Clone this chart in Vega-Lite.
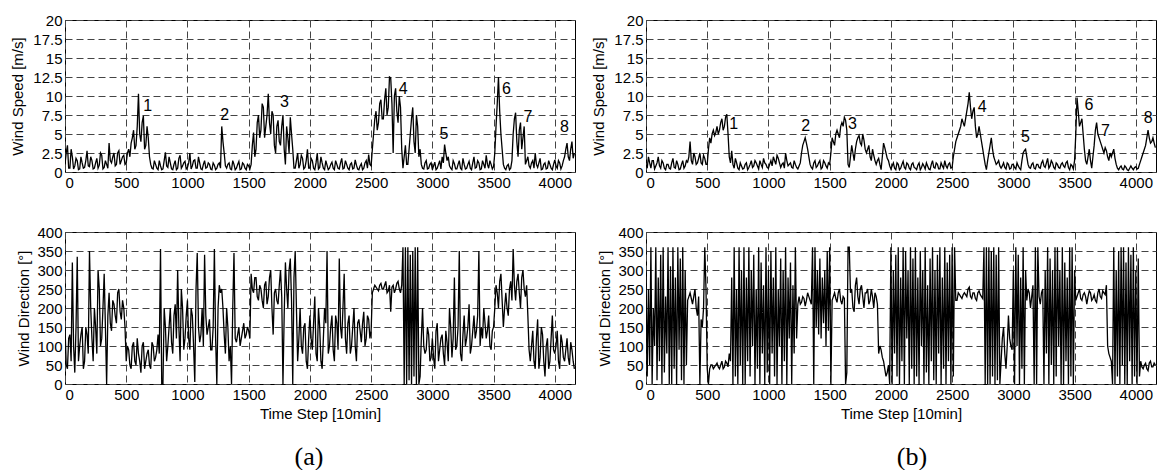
{
"$schema":"https://vega.github.io/schema/vega-lite/v6.json",
"padding":{"left":10,"top":12,"right":2,"bottom":2},
"background":"white",
"datasets":{
"ts":[
{"t":0,"sa":1.0,"da":150,"sb":1.0,"db":300},
{"t":20,"sa":3.5,"da":40,"sb":2.0,"db":250},
{"t":40,"sa":0.5,"da":130,"sb":0.5,"db":360},
{"t":60,"sa":2.0,"da":320,"sb":1.5,"db":200},
{"t":80,"sa":0.8,"da":30,"sb":0.8,"db":360},
{"t":100,"sa":1.5,"da":335,"sb":2.0,"db":280},
{"t":120,"sa":0.4,"da":100,"sb":0.5,"db":340},
{"t":140,"sa":1.2,"da":150,"sb":1.2,"db":360},
{"t":160,"sa":0.6,"da":60,"sb":0.3,"db":230},
{"t":180,"sa":2.8,"da":130,"sb":1.0,"db":360},
{"t":200,"sa":0.7,"da":350,"sb":0.4,"db":310},
{"t":220,"sa":1.5,"da":120,"sb":1.8,"db":360},
{"t":240,"sa":0.5,"da":200,"sb":0.5,"db":280},
{"t":260,"sa":1.8,"da":80,"sb":1.0,"db":360},
{"t":280,"sa":0.9,"da":250,"sb":0.4,"db":330},
{"t":300,"sa":2.2,"da":120,"sb":1.5,"db":360},
{"t":320,"sa":0.6,"da":290,"sb":0.8,"db":300},
{"t":340,"sa":1.0,"da":0,"sb":1.3,"db":220},
{"t":360,"sa":3.8,"da":240,"sb":4.0,"db":240},
{"t":380,"sa":1.2,"da":140,"sb":1.0,"db":210},
{"t":400,"sa":2.5,"da":210,"sb":2.0,"db":250},
{"t":420,"sa":1.0,"da":160,"sb":1.2,"db":180},
{"t":440,"sa":2.8,"da":250,"sb":2.5,"db":0},
{"t":460,"sa":1.5,"da":170,"sb":1.0,"db":150},
{"t":480,"sa":2.2,"da":200,"sb":1.8,"db":360},
{"t":500,"sa":1.2,"da":60,"sb":1.0,"db":40},
{"t":520,"sa":3.0,"da":90,"sb":4.5,"db":40},
{"t":540,"sa":3.8,"da":40,"sb":5.0,"db":50},
{"t":560,"sa":5.5,"da":110,"sb":4.8,"db":45},
{"t":580,"sa":3.5,"da":50,"sb":6.0,"db":55},
{"t":600,"sa":10.3,"da":80,"sb":5.5,"db":40},
{"t":620,"sa":4.0,"da":30,"sb":7.0,"db":60},
{"t":640,"sa":7.4,"da":110,"sb":6.0,"db":45},
{"t":660,"sa":3.5,"da":60,"sb":7.6,"db":55},
{"t":680,"sa":4.5,"da":90,"sb":2.0,"db":80},
{"t":700,"sa":1.0,"da":40,"sb":2.8,"db":280},
{"t":720,"sa":0.4,"da":100,"sb":0.5,"db":360},
{"t":740,"sa":1.0,"da":70,"sb":1.2,"db":250},
{"t":760,"sa":0.3,"da":130,"sb":0.3,"db":360},
{"t":780,"sa":0.8,"da":355,"sb":0.8,"db":300},
{"t":800,"sa":0.4,"da":0,"sb":0.5,"db":360},
{"t":820,"sa":2.6,"da":150,"sb":1.2,"db":280},
{"t":840,"sa":0.6,"da":100,"sb":0.6,"db":360},
{"t":860,"sa":1.2,"da":200,"sb":1.5,"db":300},
{"t":880,"sa":0.3,"da":80,"sb":0.8,"db":340},
{"t":900,"sa":1.5,"da":210,"sb":1.2,"db":250},
{"t":920,"sa":0.5,"da":300,"sb":0.4,"db":360},
{"t":940,"sa":2.2,"da":60,"sb":1.0,"db":320},
{"t":960,"sa":0.8,"da":200,"sb":1.8,"db":260},
{"t":980,"sa":1.4,"da":120,"sb":1.0,"db":360},
{"t":1000,"sa":0.6,"da":220,"sb":0.5,"db":300},
{"t":1020,"sa":2.5,"da":90,"sb":1.5,"db":350},
{"t":1040,"sa":0.8,"da":180,"sb":2.0,"db":280},
{"t":1060,"sa":1.6,"da":5,"sb":1.0,"db":360},
{"t":1080,"sa":0.5,"da":345,"sb":1.8,"db":250},
{"t":1100,"sa":1.2,"da":110,"sb":0.6,"db":330},
{"t":1120,"sa":0.3,"da":200,"sb":1.2,"db":300},
{"t":1140,"sa":1.5,"da":340,"sb":2.5,"db":360},
{"t":1160,"sa":0.6,"da":130,"sb":0.8,"db":280},
{"t":1180,"sa":1.0,"da":170,"sb":1.2,"db":320},
{"t":1200,"sa":0.3,"da":90,"sb":0.5,"db":260},
{"t":1220,"sa":0.9,"da":355,"sb":1.0,"db":360},
{"t":1240,"sa":0.5,"da":0,"sb":0.4,"db":210},
{"t":1260,"sa":1.2,"da":260,"sb":1.2,"db":210},
{"t":1280,"sa":6.0,"da":250,"sb":3.5,"db":230},
{"t":1300,"sa":2.5,"da":130,"sb":4.5,"db":205},
{"t":1320,"sa":0.5,"da":200,"sb":3.0,"db":240},
{"t":1340,"sa":1.2,"da":60,"sb":1.0,"db":220},
{"t":1360,"sa":0.3,"da":0,"sb":0.4,"db":360},
{"t":1380,"sa":1.0,"da":345,"sb":1.5,"db":360},
{"t":1400,"sa":0.5,"da":110,"sb":0.8,"db":300},
{"t":1420,"sa":1.4,"da":150,"sb":1.5,"db":330},
{"t":1440,"sa":0.4,"da":120,"sb":0.6,"db":280},
{"t":1460,"sa":1.0,"da":160,"sb":1.2,"db":300},
{"t":1480,"sa":0.3,"da":130,"sb":0.5,"db":350},
{"t":1500,"sa":0.8,"da":140,"sb":1.0,"db":360},
{"t":1520,"sa":1.0,"da":290,"sb":4.5,"db":220},
{"t":1540,"sa":5.2,"da":240,"sb":3.5,"db":240},
{"t":1560,"sa":3.0,"da":280,"sb":5.5,"db":215},
{"t":1580,"sa":7.5,"da":220,"sb":4.5,"db":250},
{"t":1600,"sa":5.5,"da":250,"sb":6.5,"db":210},
{"t":1620,"sa":8.5,"da":200,"sb":7.2,"db":225},
{"t":1640,"sa":6.0,"da":270,"sb":5.5,"db":30},
{"t":1660,"sa":10.3,"da":230,"sb":0.6,"db":360},
{"t":1680,"sa":5.0,"da":300,"sb":3.5,"db":250},
{"t":1700,"sa":7.5,"da":130,"sb":1.5,"db":190},
{"t":1720,"sa":2.5,"da":250,"sb":4.0,"db":280},
{"t":1740,"sa":6.8,"da":210,"sb":4.8,"db":210},
{"t":1760,"sa":3.5,"da":300,"sb":3.5,"db":260},
{"t":1780,"sa":7.5,"da":0,"sb":4.2,"db":200},
{"t":1800,"sa":1.0,"da":320,"sb":2.5,"db":240},
{"t":1820,"sa":4.5,"da":200,"sb":3.5,"db":210},
{"t":1840,"sa":7.2,"da":330,"sb":1.5,"db":250},
{"t":1860,"sa":3.0,"da":0,"sb":2.2,"db":200},
{"t":1880,"sa":0.5,"da":350,"sb":1.0,"db":230},
{"t":1900,"sa":2.5,"da":60,"sb":1.8,"db":80},
{"t":1920,"sa":1.0,"da":200,"sb":0.3,"db":90},
{"t":1940,"sa":1.8,"da":80,"sb":3.8,"db":60},
{"t":1960,"sa":0.6,"da":160,"sb":2.5,"db":20},
{"t":1980,"sa":3.0,"da":40,"sb":1.5,"db":50},
{"t":2000,"sa":0.5,"da":180,"sb":0.4,"db":360},
{"t":2020,"sa":1.5,"da":90,"sb":1.2,"db":300},
{"t":2040,"sa":0.3,"da":230,"sb":0.3,"db":340},
{"t":2060,"sa":2.5,"da":60,"sb":1.0,"db":360},
{"t":2080,"sa":0.6,"da":150,"sb":0.5,"db":280},
{"t":2100,"sa":1.2,"da":40,"sb":1.4,"db":360},
{"t":2120,"sa":0.3,"da":200,"sb":0.4,"db":350},
{"t":2140,"sa":0.9,"da":350,"sb":1.0,"db":300},
{"t":2160,"sa":0.5,"da":100,"sb":0.3,"db":360},
{"t":2180,"sa":1.3,"da":180,"sb":1.2,"db":330},
{"t":2200,"sa":0.3,"da":60,"sb":0.5,"db":360},
{"t":2220,"sa":1.0,"da":160,"sb":0.9,"db":280},
{"t":2240,"sa":0.4,"da":330,"sb":0.3,"db":350},
{"t":2260,"sa":1.8,"da":120,"sb":1.1,"db":300},
{"t":2280,"sa":0.5,"da":290,"sb":0.4,"db":360},
{"t":2300,"sa":1.0,"da":80,"sb":0.8,"db":260},
{"t":2320,"sa":0.3,"da":180,"sb":0.3,"db":330},
{"t":2340,"sa":1.2,"da":100,"sb":1.5,"db":360},
{"t":2360,"sa":0.5,"da":200,"sb":0.5,"db":300},
{"t":2380,"sa":0.9,"da":60,"sb":1.0,"db":340},
{"t":2400,"sa":0.3,"da":170,"sb":0.4,"db":360},
{"t":2420,"sa":1.1,"da":110,"sb":0.8,"db":280},
{"t":2440,"sa":0.5,"da":190,"sb":1.5,"db":360},
{"t":2460,"sa":1.5,"da":120,"sb":0.5,"db":320},
{"t":2480,"sa":2.3,"da":170,"sb":1.2,"db":340},
{"t":2500,"sa":0.8,"da":140,"sb":0.6,"db":360},
{"t":2520,"sa":5.0,"da":250,"sb":3.0,"db":360},
{"t":2540,"sa":8.0,"da":255,"sb":4.5,"db":220},
{"t":2560,"sa":6.5,"da":245,"sb":5.5,"db":235},
{"t":2580,"sa":9.5,"da":265,"sb":7.0,"db":225},
{"t":2600,"sa":7.0,"da":250,"sb":6.0,"db":240},
{"t":2620,"sa":11.0,"da":270,"sb":8.0,"db":230},
{"t":2640,"sa":8.5,"da":245,"sb":10.5,"db":255},
{"t":2660,"sa":12.4,"da":190,"sb":7.0,"db":225},
{"t":2680,"sa":2.5,"da":260,"sb":8.5,"db":240},
{"t":2700,"sa":11.0,"da":250,"sb":4.5,"db":220},
{"t":2720,"sa":6.5,"da":270,"sb":6.0,"db":245},
{"t":2740,"sa":8.5,"da":240,"sb":4.0,"db":230},
{"t":2760,"sa":0.5,"da":360,"sb":2.0,"db":360},
{"t":2780,"sa":3.5,"da":360,"sb":0.3,"db":360},
{"t":2800,"sa":1.0,"da":360,"sb":2.5,"db":360},
{"t":2820,"sa":5.0,"da":340,"sb":4.5,"db":350},
{"t":2840,"sa":8.5,"da":350,"sb":2.0,"db":360},
{"t":2860,"sa":2.5,"da":360,"sb":1.0,"db":340},
{"t":2880,"sa":6.0,"da":360,"sb":1.5,"db":360},
{"t":2900,"sa":3.0,"da":20,"sb":0.5,"db":60},
{"t":2920,"sa":0.5,"da":200,"sb":1.2,"db":150},
{"t":2940,"sa":1.2,"da":80,"sb":0.4,"db":40},
{"t":2960,"sa":0.4,"da":150,"sb":1.0,"db":180},
{"t":2980,"sa":1.0,"da":60,"sb":0.5,"db":100},
{"t":3000,"sa":0.3,"da":120,"sb":1.0,"db":300},
{"t":3020,"sa":1.3,"da":40,"sb":0.4,"db":360},
{"t":3040,"sa":0.5,"da":160,"sb":0.8,"db":340},
{"t":3060,"sa":1.5,"da":90,"sb":0.3,"db":280},
{"t":3080,"sa":2.0,"da":130,"sb":2.5,"db":360},
{"t":3100,"sa":3.6,"da":50,"sb":3.0,"db":300},
{"t":3120,"sa":1.5,"da":110,"sb":1.0,"db":250},
{"t":3140,"sa":0.8,"da":200,"sb":0.5,"db":200},
{"t":3160,"sa":0.3,"da":70,"sb":1.2,"db":260},
{"t":3180,"sa":1.1,"da":280,"sb":0.4,"db":360},
{"t":3200,"sa":0.4,"da":100,"sb":1.0,"db":360},
{"t":3220,"sa":1.5,"da":350,"sb":0.5,"db":210},
{"t":3240,"sa":0.3,"da":60,"sb":1.5,"db":250},
{"t":3260,"sa":1.0,"da":180,"sb":0.6,"db":300},
{"t":3280,"sa":0.5,"da":120,"sb":1.8,"db":360},
{"t":3300,"sa":1.4,"da":210,"sb":0.8,"db":330},
{"t":3320,"sa":0.3,"da":100,"sb":1.2,"db":300},
{"t":3340,"sa":2.0,"da":180,"sb":0.4,"db":360},
{"t":3360,"sa":0.6,"da":140,"sb":1.0,"db":360},
{"t":3380,"sa":1.2,"da":350,"sb":0.5,"db":300},
{"t":3400,"sa":0.4,"da":150,"sb":1.2,"db":360},
{"t":3420,"sa":1.0,"da":200,"sb":0.6,"db":320},
{"t":3440,"sa":2.2,"da":120,"sb":1.4,"db":280},
{"t":3460,"sa":0.5,"da":180,"sb":0.3,"db":360},
{"t":3480,"sa":1.0,"da":90,"sb":0.8,"db":360},
{"t":3500,"sa":0.7,"da":150,"sb":1.5,"db":300},
{"t":3520,"sa":6.0,"da":260,"sb":9.8,"db":230},
{"t":3540,"sa":12.5,"da":200,"sb":6.0,"db":250},
{"t":3560,"sa":5.0,"da":290,"sb":7.0,"db":220},
{"t":3580,"sa":1.0,"da":150,"sb":3.0,"db":240},
{"t":3600,"sa":0.3,"da":240,"sb":1.0,"db":210},
{"t":3620,"sa":1.0,"da":180,"sb":3.0,"db":245},
{"t":3640,"sa":0.5,"da":270,"sb":0.5,"db":220},
{"t":3660,"sa":5.0,"da":355,"sb":3.5,"db":235},
{"t":3680,"sa":7.8,"da":220,"sb":6.5,"db":215},
{"t":3700,"sa":2.0,"da":290,"sb":4.5,"db":250},
{"t":3720,"sa":6.5,"da":200,"sb":3.5,"db":225},
{"t":3740,"sa":4.5,"da":300,"sb":2.5,"db":240},
{"t":3760,"sa":1.0,"da":230,"sb":2.8,"db":260},
{"t":3780,"sa":2.0,"da":180,"sb":1.5,"db":80},
{"t":3800,"sa":0.5,"da":60,"sb":2.0,"db":60},
{"t":3820,"sa":1.5,"da":140,"sb":3.0,"db":360},
{"t":3840,"sa":2.5,"da":40,"sb":1.0,"db":300},
{"t":3860,"sa":0.6,"da":170,"sb":0.3,"db":350},
{"t":3880,"sa":1.8,"da":70,"sb":0.8,"db":360},
{"t":3900,"sa":0.4,"da":130,"sb":0.3,"db":360},
{"t":3920,"sa":1.2,"da":20,"sb":0.6,"db":320},
{"t":3940,"sa":0.5,"da":120,"sb":0.2,"db":360},
{"t":3960,"sa":1.0,"da":60,"sb":0.8,"db":340},
{"t":3980,"sa":0.3,"da":180,"sb":0.3,"db":360},
{"t":4000,"sa":1.6,"da":80,"sb":0.7,"db":300},
{"t":4020,"sa":0.5,"da":140,"sb":0.5,"db":330},
{"t":4040,"sa":1.2,"da":40,"sb":1.5,"db":60},
{"t":4060,"sa":0.8,"da":110,"sb":2.5,"db":40},
{"t":4080,"sa":2.0,"da":60,"sb":3.5,"db":55},
{"t":4100,"sa":3.8,"da":120,"sb":5.5,"db":35},
{"t":4120,"sa":1.5,"da":50,"sb":3.8,"db":60},
{"t":4140,"sa":4.0,"da":90,"sb":4.5,"db":45},
{"t":4160,"sa":2.5,"da":40,"sb":3.2,"db":50},
{"t":10,"sa":2.5,"da":50,"sb":0.5,"db":20},
{"t":30,"sa":0.5,"da":120,"sb":1.2,"db":50},
{"t":50,"sa":3.0,"da":60,"sb":1.5,"db":0},
{"t":70,"sa":0.4,"da":100,"sb":0.4,"db":100},
{"t":90,"sa":1.8,"da":150,"sb":1.2,"db":10},
{"t":110,"sa":0.3,"da":60,"sb":0.8,"db":60},
{"t":130,"sa":2.0,"da":130,"sb":1.5,"db":0},
{"t":150,"sa":0.5,"da":40,"sb":0.5,"db":30},
{"t":170,"sa":1.5,"da":150,"sb":1.0,"db":80},
{"t":190,"sa":0.8,"da":80,"sb":0.5,"db":0},
{"t":210,"sa":2.0,"da":200,"sb":1.2,"db":0},
{"t":230,"sa":0.4,"da":60,"sb":0.6,"db":40},
{"t":250,"sa":1.2,"da":150,"sb":1.5,"db":0},
{"t":270,"sa":0.5,"da":300,"sb":0.3,"db":90},
{"t":290,"sa":2.5,"da":100,"sb":1.0,"db":10},
{"t":310,"sa":0.4,"da":200,"sb":0.5,"db":0},
{"t":330,"sa":1.5,"da":150,"sb":1.5,"db":50},
{"t":350,"sa":0.5,"da":180,"sb":2.0,"db":230},
{"t":370,"sa":1.5,"da":160,"sb":1.5,"db":225},
{"t":390,"sa":2.0,"da":220,"sb":2.5,"db":230},
{"t":410,"sa":0.8,"da":180,"sb":1.0,"db":200},
{"t":430,"sa":2.5,"da":240,"sb":1.8,"db":230},
{"t":450,"sa":1.0,"da":190,"sb":1.2,"db":170},
{"t":470,"sa":2.0,"da":220,"sb":2.2,"db":200},
{"t":490,"sa":1.0,"da":150,"sb":1.0,"db":250},
{"t":510,"sa":2.5,"da":100,"sb":3.0,"db":0},
{"t":530,"sa":2.0,"da":50,"sb":3.8,"db":50},
{"t":550,"sa":4.5,"da":100,"sb":5.5,"db":40},
{"t":570,"sa":3.0,"da":60,"sb":5.2,"db":50},
{"t":590,"sa":6.0,"da":120,"sb":5.0,"db":45},
{"t":610,"sa":5.0,"da":60,"sb":6.5,"db":50},
{"t":630,"sa":6.5,"da":100,"sb":5.5,"db":40},
{"t":650,"sa":3.0,"da":40,"sb":7.2,"db":60},
{"t":670,"sa":6.0,"da":80,"sb":5.0,"db":45},
{"t":690,"sa":2.0,"da":50,"sb":1.2,"db":60},
{"t":710,"sa":0.5,"da":110,"sb":1.0,"db":0},
{"t":730,"sa":1.5,"da":60,"sb":1.8,"db":20},
{"t":750,"sa":0.5,"da":90,"sb":0.5,"db":0},
{"t":770,"sa":1.5,"da":80,"sb":1.2,"db":50},
{"t":790,"sa":0.3,"da":0,"sb":0.4,"db":0},
{"t":810,"sa":1.5,"da":200,"sb":1.0,"db":0},
{"t":830,"sa":0.8,"da":60,"sb":0.3,"db":60},
{"t":850,"sa":2.0,"da":150,"sb":1.0,"db":20},
{"t":870,"sa":0.4,"da":110,"sb":0.6,"db":100},
{"t":890,"sa":1.0,"da":180,"sb":1.5,"db":0},
{"t":910,"sa":0.3,"da":120,"sb":0.8,"db":40},
{"t":930,"sa":1.8,"da":150,"sb":1.5,"db":0},
{"t":950,"sa":0.5,"da":250,"sb":0.6,"db":80},
{"t":970,"sa":1.2,"da":90,"sb":1.2,"db":0},
{"t":990,"sa":0.4,"da":180,"sb":0.6,"db":30},
{"t":1010,"sa":1.2,"da":120,"sb":1.0,"db":0},
{"t":1030,"sa":0.4,"da":200,"sb":0.8,"db":80},
{"t":1050,"sa":1.5,"da":100,"sb":1.5,"db":20},
{"t":1070,"sa":0.5,"da":250,"sb":2.2,"db":0},
{"t":1090,"sa":2.0,"da":150,"sb":1.2,"db":100},
{"t":1110,"sa":0.4,"da":130,"sb":1.0,"db":0},
{"t":1130,"sa":1.0,"da":100,"sb":0.5,"db":60},
{"t":1150,"sa":0.5,"da":180,"sb":1.5,"db":0},
{"t":1170,"sa":1.2,"da":150,"sb":1.0,"db":120},
{"t":1190,"sa":0.4,"da":90,"sb":0.6,"db":0},
{"t":1210,"sa":1.2,"da":150,"sb":1.5,"db":80},
{"t":1230,"sa":0.3,"da":120,"sb":0.6,"db":120},
{"t":1250,"sa":1.0,"da":200,"sb":0.8,"db":230},
{"t":1270,"sa":0.5,"da":240,"sb":2.5,"db":215},
{"t":1290,"sa":4.0,"da":200,"sb":4.0,"db":225},
{"t":1310,"sa":0.8,"da":80,"sb":3.8,"db":220},
{"t":1330,"sa":1.0,"da":150,"sb":2.0,"db":230},
{"t":1350,"sa":0.4,"da":100,"sb":0.6,"db":210},
{"t":1370,"sa":1.5,"da":200,"sb":1.2,"db":0},
{"t":1390,"sa":0.3,"da":120,"sb":0.6,"db":150},
{"t":1410,"sa":1.0,"da":130,"sb":1.2,"db":130},
{"t":1430,"sa":0.3,"da":100,"sb":0.4,"db":120},
{"t":1450,"sa":1.2,"da":140,"sb":1.5,"db":160},
{"t":1470,"sa":0.5,"da":120,"sb":0.8,"db":100},
{"t":1490,"sa":1.0,"da":150,"sb":1.2,"db":140},
{"t":1510,"sa":0.4,"da":120,"sb":2.5,"db":0},
{"t":1530,"sa":3.5,"da":250,"sb":4.0,"db":230},
{"t":1550,"sa":2.0,"da":280,"sb":5.0,"db":225},
{"t":1570,"sa":6.5,"da":230,"sb":5.0,"db":240},
{"t":1590,"sa":4.5,"da":260,"sb":6.0,"db":220},
{"t":1610,"sa":9.0,"da":220,"sb":6.0,"db":230},
{"t":1630,"sa":4.5,"da":260,"sb":6.8,"db":0},
{"t":1650,"sa":7.5,"da":210,"sb":1.0,"db":360},
{"t":1670,"sa":6.5,"da":280,"sb":2.0,"db":240},
{"t":1690,"sa":8.0,"da":200,"sb":2.5,"db":200},
{"t":1710,"sa":3.5,"da":240,"sb":3.0,"db":260},
{"t":1730,"sa":6.0,"da":220,"sb":4.5,"db":230},
{"t":1750,"sa":4.0,"da":260,"sb":3.8,"db":250},
{"t":1770,"sa":6.0,"da":230,"sb":5.0,"db":230},
{"t":1790,"sa":3.0,"da":180,"sb":3.0,"db":240},
{"t":1810,"sa":6.0,"da":250,"sb":3.0,"db":250},
{"t":1830,"sa":2.5,"da":300,"sb":2.0,"db":220},
{"t":1850,"sa":5.0,"da":220,"sb":3.0,"db":230},
{"t":1870,"sa":0.5,"da":280,"sb":1.5,"db":240},
{"t":1890,"sa":1.5,"da":200,"sb":1.5,"db":210},
{"t":1910,"sa":0.5,"da":120,"sb":1.0,"db":100},
{"t":1930,"sa":2.2,"da":100,"sb":2.0,"db":70},
{"t":1950,"sa":0.4,"da":150,"sb":3.2,"db":40},
{"t":1970,"sa":1.5,"da":60,"sb":1.8,"db":30},
{"t":1990,"sa":0.5,"da":120,"sb":0.8,"db":0},
{"t":2010,"sa":1.8,"da":120,"sb":0.8,"db":0},
{"t":2030,"sa":0.5,"da":160,"sb":0.5,"db":80},
{"t":2050,"sa":1.2,"da":80,"sb":1.2,"db":20},
{"t":2070,"sa":0.4,"da":200,"sb":0.3,"db":0},
{"t":2090,"sa":2.0,"da":60,"sb":1.0,"db":60},
{"t":2110,"sa":0.5,"da":120,"sb":0.6,"db":0},
{"t":2130,"sa":1.5,"da":160,"sb":1.2,"db":120},
{"t":2150,"sa":0.3,"da":80,"sb":0.5,"db":0},
{"t":2170,"sa":1.0,"da":150,"sb":1.0,"db":40},
{"t":2190,"sa":0.5,"da":90,"sb":0.6,"db":0},
{"t":2210,"sa":1.5,"da":180,"sb":0.3,"db":20},
{"t":2230,"sa":0.5,"da":90,"sb":1.2,"db":0},
{"t":2250,"sa":1.2,"da":150,"sb":0.6,"db":100},
{"t":2270,"sa":0.4,"da":200,"sb":0.8,"db":0},
{"t":2290,"sa":1.5,"da":120,"sb":1.2,"db":30},
{"t":2310,"sa":0.5,"da":160,"sb":0.4,"db":0},
{"t":2330,"sa":1.0,"da":80,"sb":1.0,"db":60},
{"t":2350,"sa":0.4,"da":150,"sb":0.6,"db":10},
{"t":2370,"sa":1.6,"da":100,"sb":1.2,"db":0},
{"t":2390,"sa":0.4,"da":160,"sb":0.4,"db":80},
{"t":2410,"sa":0.8,"da":140,"sb":1.2,"db":0},
{"t":2430,"sa":0.3,"da":160,"sb":0.5,"db":40},
{"t":2450,"sa":1.2,"da":100,"sb":0.8,"db":0},
{"t":2470,"sa":0.5,"da":180,"sb":1.0,"db":60},
{"t":2490,"sa":1.0,"da":120,"sb":0.5,"db":0},
{"t":2510,"sa":3.0,"da":240,"sb":2.0,"db":20},
{"t":2530,"sa":7.0,"da":260,"sb":4.0,"db":220},
{"t":2550,"sa":5.5,"da":250,"sb":5.0,"db":240},
{"t":2570,"sa":9.0,"da":260,"sb":6.0,"db":230},
{"t":2590,"sa":7.0,"da":250,"sb":6.5,"db":235},
{"t":2610,"sa":9.5,"da":260,"sb":7.0,"db":235},
{"t":2630,"sa":7.5,"da":240,"sb":9.0,"db":250},
{"t":2650,"sa":12.5,"da":260,"sb":8.5,"db":230},
{"t":2670,"sa":9.0,"da":255,"sb":8.0,"db":240},
{"t":2690,"sa":10.0,"da":240,"sb":6.0,"db":225},
{"t":2710,"sa":8.0,"da":265,"sb":5.0,"db":240},
{"t":2730,"sa":10.0,"da":250,"sb":5.0,"db":235},
{"t":2750,"sa":3.0,"da":260,"sb":3.0,"db":225},
{"t":2770,"sa":2.0,"da":0,"sb":1.0,"db":0},
{"t":2790,"sa":1.0,"da":0,"sb":1.5,"db":0},
{"t":2810,"sa":3.0,"da":10,"sb":3.5,"db":0},
{"t":2830,"sa":7.0,"da":0,"sb":3.0,"db":20},
{"t":2850,"sa":4.0,"da":20,"sb":1.5,"db":0},
{"t":2870,"sa":7.5,"da":0,"sb":1.2,"db":10},
{"t":2890,"sa":2.0,"da":0,"sb":0.8,"db":0},
{"t":2910,"sa":1.0,"da":120,"sb":0.8,"db":120},
{"t":2930,"sa":0.4,"da":100,"sb":0.6,"db":80},
{"t":2950,"sa":1.5,"da":90,"sb":1.2,"db":100},
{"t":2970,"sa":0.5,"da":130,"sb":0.4,"db":120},
{"t":2990,"sa":1.2,"da":70,"sb":1.0,"db":90},
{"t":3010,"sa":0.8,"da":70,"sb":0.6,"db":0},
{"t":3030,"sa":0.3,"da":140,"sb":1.2,"db":100},
{"t":3050,"sa":1.0,"da":60,"sb":0.5,"db":0},
{"t":3070,"sa":0.4,"da":120,"sb":1.5,"db":40},
{"t":3090,"sa":1.2,"da":80,"sb":2.8,"db":0},
{"t":3110,"sa":2.5,"da":140,"sb":2.0,"db":220},
{"t":3130,"sa":2.0,"da":60,"sb":0.6,"db":240},
{"t":3150,"sa":0.5,"da":150,"sb":1.0,"db":230},
{"t":3170,"sa":1.5,"da":120,"sb":0.5,"db":0},
{"t":3190,"sa":0.4,"da":90,"sb":1.0,"db":0},
{"t":3210,"sa":1.0,"da":150,"sb":0.6,"db":230},
{"t":3230,"sa":0.5,"da":80,"sb":1.2,"db":240},
{"t":3250,"sa":1.8,"da":130,"sb":0.8,"db":0},
{"t":3270,"sa":0.4,"da":100,"sb":1.2,"db":80},
{"t":3290,"sa":1.0,"da":150,"sb":0.5,"db":0},
{"t":3310,"sa":0.5,"da":80,"sb":1.5,"db":50},
{"t":3330,"sa":1.2,"da":140,"sb":0.6,"db":0},
{"t":3350,"sa":0.5,"da":120,"sb":1.2,"db":20},
{"t":3370,"sa":1.5,"da":180,"sb":0.6,"db":100},
{"t":3390,"sa":0.3,"da":100,"sb":1.0,"db":0},
{"t":3410,"sa":1.5,"da":120,"sb":0.8,"db":0},
{"t":3430,"sa":0.5,"da":160,"sb":1.2,"db":60},
{"t":3450,"sa":1.0,"da":140,"sb":0.6,"db":0},
{"t":3470,"sa":1.5,"da":100,"sb":1.0,"db":20},
{"t":3490,"sa":0.4,"da":140,"sb":0.4,"db":0},
{"t":3510,"sa":2.5,"da":200,"sb":5.0,"db":220},
{"t":3530,"sa":9.0,"da":240,"sb":8.0,"db":240},
{"t":3550,"sa":8.0,"da":270,"sb":6.5,"db":225},
{"t":3570,"sa":3.0,"da":220,"sb":5.0,"db":235},
{"t":3590,"sa":0.5,"da":200,"sb":1.5,"db":230},
{"t":3610,"sa":0.8,"da":200,"sb":2.0,"db":230},
{"t":3630,"sa":0.3,"da":250,"sb":1.5,"db":240},
{"t":3650,"sa":1.5,"da":220,"sb":2.0,"db":225},
{"t":3670,"sa":7.0,"da":260,"sb":5.5,"db":220},
{"t":3690,"sa":4.0,"da":270,"sb":5.0,"db":240},
{"t":3710,"sa":5.5,"da":240,"sb":4.0,"db":230},
{"t":3730,"sa":3.0,"da":280,"sb":3.0,"db":245},
{"t":3750,"sa":6.0,"da":250,"sb":3.2,"db":235},
{"t":3770,"sa":1.5,"da":260,"sb":2.0,"db":100},
{"t":3790,"sa":0.8,"da":90,"sb":2.5,"db":70},
{"t":3810,"sa":1.2,"da":100,"sb":2.5,"db":0},
{"t":3830,"sa":0.5,"da":60,"sb":1.8,"db":0},
{"t":3850,"sa":1.0,"da":120,"sb":0.5,"db":20},
{"t":3870,"sa":1.2,"da":40,"sb":0.6,"db":0},
{"t":3890,"sa":0.3,"da":150,"sb":0.4,"db":50},
{"t":3910,"sa":1.0,"da":60,"sb":0.8,"db":0},
{"t":3930,"sa":0.4,"da":100,"sb":0.3,"db":0},
{"t":3950,"sa":1.5,"da":40,"sb":0.5,"db":60},
{"t":3970,"sa":0.5,"da":120,"sb":0.5,"db":0},
{"t":3990,"sa":1.0,"da":90,"sb":0.6,"db":20},
{"t":4010,"sa":0.8,"da":100,"sb":0.4,"db":0},
{"t":4030,"sa":1.5,"da":60,"sb":1.0,"db":20},
{"t":4050,"sa":0.4,"da":130,"sb":2.0,"db":45},
{"t":4070,"sa":1.5,"da":70,"sb":3.0,"db":50},
{"t":4090,"sa":3.0,"da":90,"sb":4.5,"db":40},
{"t":4110,"sa":2.0,"da":70,"sb":4.5,"db":55},
{"t":4130,"sa":3.0,"da":110,"sb":4.0,"db":45},
{"t":4150,"sa":1.8,"da":60,"sb":3.8,"db":55}
],
"lab":[
{"p":"a","n":"1","t":676,"s":8.7},
{"p":"a","n":"2","t":1305,"s":7.5},
{"p":"a","n":"3","t":1792,"s":9.25},
{"p":"a","n":"4","t":2761,"s":10.9},
{"p":"a","n":"5","t":3094,"s":4.96},
{"p":"a","n":"6","t":3605,"s":10.9},
{"p":"a","n":"7","t":3780,"s":7.3},
{"p":"a","n":"8","t":4079,"s":5.9},
{"p":"b","n":"1","t":716,"s":6.3},
{"p":"b","n":"2","t":1305,"s":6.0},
{"p":"b","n":"3","t":1686,"s":6.3},
{"p":"b","n":"4","t":2745,"s":8.6},
{"p":"b","n":"5","t":3099,"s":4.65},
{"p":"b","n":"6","t":3617,"s":8.8},
{"p":"b","n":"7","t":3753,"s":5.4},
{"p":"b","n":"8","t":4101,"s":7.07}
]
},
"hconcat":[
{
"title":{"text":"(a)","orient":"bottom","anchor":"middle","font":"Liberation Serif","fontSize":26,"fontWeight":"normal","color":"black","dx":16,"offset":22},
"spacing":33,
"vconcat":[
{"width":510,"height":152,"layer":[
{"data":{"name":"ts"},"mark":{"type":"line","color":"black","strokeWidth":1.3,"clip":true},
"encoding":{
"x":{"field":"t","type":"quantitative","scale":{"domain":[0,4165],"nice":false,"zero":false},"axis":{"values":[0,500,1000,1500,2000,2500,3000,3500,4000],"format":"d","title":null}},
"y":{"field":"sa","type":"quantitative","scale":{"domain":[0,20],"nice":false},"axis":{"values":[0,2.5,5,7.5,10,12.5,15,17.5,20],"format":".3~g","title":"Wind Speed [m/s]","titlePadding":7}}}},
{"data":{"name":"lab"},"transform":[{"filter":"datum.p==='a'"}],"mark":{"type":"text","fontSize":16,"color":"black","font":"Liberation Sans"},
"encoding":{"x":{"field":"t","type":"quantitative","axis":{"values":[0,500,1000,1500,2000,2500,3000,3500,4000],"format":"d","title":null}},"y":{"field":"s","type":"quantitative","axis":{"values":[0,2.5,5,7.5,10,12.5,15,17.5,20],"format":".3~g","title":"Wind Speed [m/s]","titlePadding":7}},"text":{"field":"n"}}}
]},
{"width":510,"height":152,"data":{"name":"ts"},"mark":{"type":"line","color":"black","strokeWidth":1.3,"clip":true},
"encoding":{
"x":{"field":"t","type":"quantitative","scale":{"domain":[0,4165],"nice":false,"zero":false},"axis":{"values":[0,500,1000,1500,2000,2500,3000,3500,4000],"format":"d","title":"Time Step [10min]"}},
"y":{"field":"da","type":"quantitative","scale":{"domain":[0,400],"nice":false},"axis":{"values":[0,50,100,150,200,250,300,350,400],"format":"d","title":"Wind Direction [°]","titlePadding":5}}}}
]
},
{
"title":{"text":"(b)","orient":"bottom","anchor":"middle","font":"Liberation Serif","fontSize":26,"fontWeight":"normal","color":"black","dx":38,"offset":22},
"spacing":33,
"vconcat":[
{"width":510,"height":152,"layer":[
{"data":{"name":"ts"},"mark":{"type":"line","color":"black","strokeWidth":1.3,"clip":true},
"encoding":{
"x":{"field":"t","type":"quantitative","scale":{"domain":[0,4165],"nice":false,"zero":false},"axis":{"values":[0,500,1000,1500,2000,2500,3000,3500,4000],"format":"d","title":null}},
"y":{"field":"sb","type":"quantitative","scale":{"domain":[0,20],"nice":false},"axis":{"values":[0,2.5,5,7.5,10,12.5,15,17.5,20],"format":".3~g","title":"Wind Speed [m/s]","titlePadding":7}}}},
{"data":{"name":"lab"},"transform":[{"filter":"datum.p==='b'"}],"mark":{"type":"text","fontSize":16,"color":"black","font":"Liberation Sans"},
"encoding":{"x":{"field":"t","type":"quantitative","axis":{"values":[0,500,1000,1500,2000,2500,3000,3500,4000],"format":"d","title":null}},"y":{"field":"s","type":"quantitative","axis":{"values":[0,2.5,5,7.5,10,12.5,15,17.5,20],"format":".3~g","title":"Wind Speed [m/s]","titlePadding":7}},"text":{"field":"n"}}}
]},
{"width":510,"height":152,"data":{"name":"ts"},"mark":{"type":"line","color":"black","strokeWidth":1.3,"clip":true},
"encoding":{
"x":{"field":"t","type":"quantitative","scale":{"domain":[0,4165],"nice":false,"zero":false},"axis":{"values":[0,500,1000,1500,2000,2500,3000,3500,4000],"format":"d","title":"Time Step [10min]"}},
"y":{"field":"db","type":"quantitative","scale":{"domain":[0,400],"nice":false},"axis":{"values":[0,50,100,150,200,250,300,350,400],"format":"d","title":"Wind Direction [°]","titlePadding":5}}}}
]
}
],
"spacing":15,
"config":{
"font":"Liberation Sans",
"view":{"stroke":"black","strokeWidth":1},
"axis":{"labelFont":"Liberation Sans","labelFontSize":15,"labelColor":"black","labelOverlap":false,"titleFont":"Liberation Sans","titleFontSize":15,"titleFontWeight":"normal","titleColor":"black","domain":false,"ticks":false,"grid":true,"gridColor":"#444","gridDash":[7,4],"gridWidth":1,"labelPadding":3,"titlePadding":4}
}
}
